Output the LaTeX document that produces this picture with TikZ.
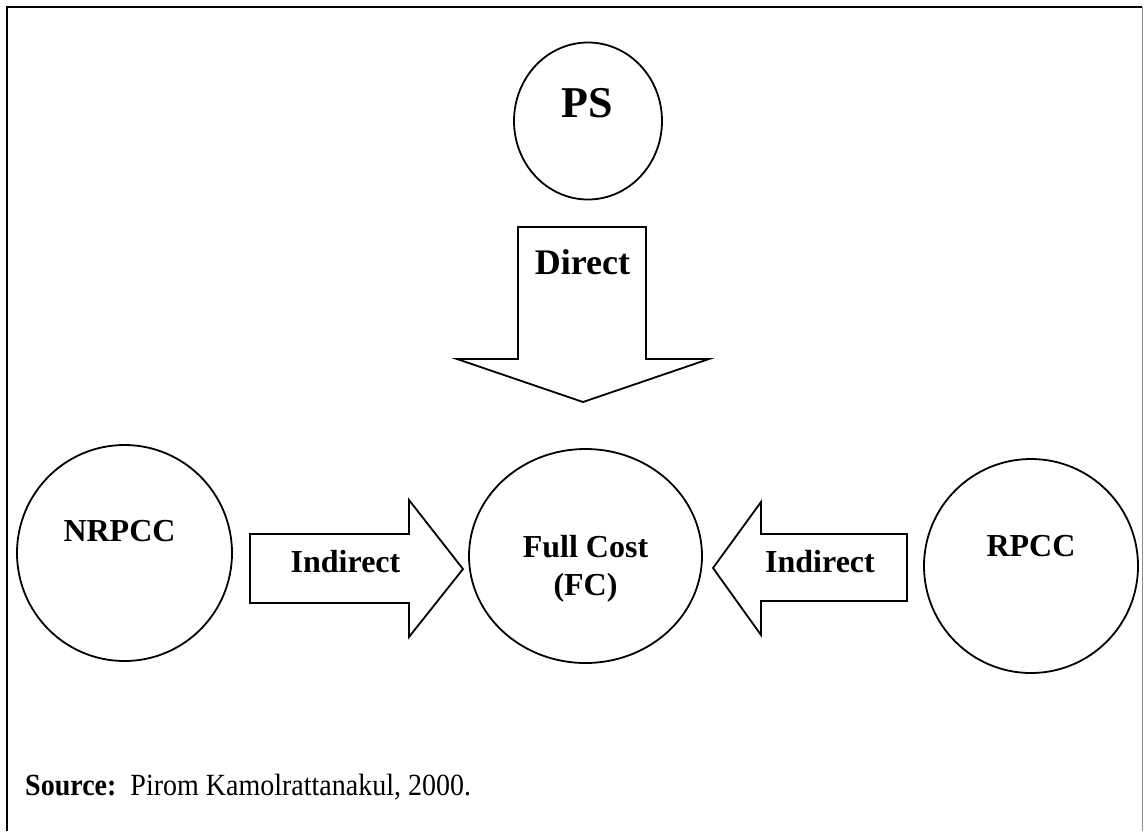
\documentclass[tikz,border=0pt]{standalone}
\usepackage{fontspec}
\setmainfont{Liberation Serif}
\usetikzlibrary{shapes.geometric}

\begin{document}
\begin{tikzpicture}[x=1pt,y=-1pt,
  disc/.style={draw, ellipse, line width=1.8pt, inner sep=0pt},
  blockarrow/.style={draw, line width=1.8pt, line join=miter, fill=white},
  lbl/.style={font=\bfseries\fontsize{32}{38}\selectfont, inner sep=0pt, anchor=base},
  frame/.style={line width=2.2pt}
]
\useasboundingbox (0,0) rectangle (1145,831);

% outer frame (open at the bottom)
\draw[frame] (7,831) -- (7,7) -- (1142,7);
\draw[line width=1pt, black!45] (1142,7) -- (1142,831);

% cost pools
\node[disc, minimum width=148pt, minimum height=157pt] (ps) at (588,121) {};
\node[disc, minimum width=215pt, minimum height=216pt] (nrpcc) at (124.5,553) {};
\node[disc, minimum width=233pt, minimum height=214pt] (fc) at (585.5,556) {};
\node[disc, minimum width=214pt, minimum height=214pt] (rpcc) at (1031,566) {};

% labels inside the circles
\node[lbl, font=\bfseries\fontsize{44}{50}\selectfont] (pslbl) at (587.5,117) {PS};
\node[lbl] (nrpcclbl) at (119.5,541) {NRPCC};
\node[lbl] (rpcclbl) at (1031,556) {RPCC};
\node[lbl] (fclbl1) at (585.5,557) {Full Cost};
\node[lbl] (fclbl2) at (585.5,595) {(FC)};

% block arrows
\draw[blockarrow] (518,227) -- (646,227) -- (646,359) -- (709,359) -- (583,402)
  -- (457,359) -- (518,359) -- cycle;
\draw[blockarrow] (250,534) -- (409,534) -- (409,500) -- (463,569) -- (409,637)
  -- (409,603) -- (250,603) -- cycle;
\draw[blockarrow] (907,534) -- (761,534) -- (761,502) -- (713,568) -- (761,635)
  -- (761,601) -- (907,601) -- cycle;

% arrow labels
\node[lbl, font=\bfseries\fontsize{36}{40}\selectfont] (direct) at (582.5,274) {Direct};
\node[lbl] (indl) at (345.5,572) {Indirect};
\node[lbl] (indr) at (820,572) {Indirect};

% source note
\node[inner sep=0pt, anchor=base west, font=\fontsize{28}{34}\selectfont] (src) at (25,795)
  {\scalebox{1}[1.1]{\textbf{Source:}\ \ Pirom Kamolrattanakul, 2000.}};
\end{tikzpicture}
\end{document}
